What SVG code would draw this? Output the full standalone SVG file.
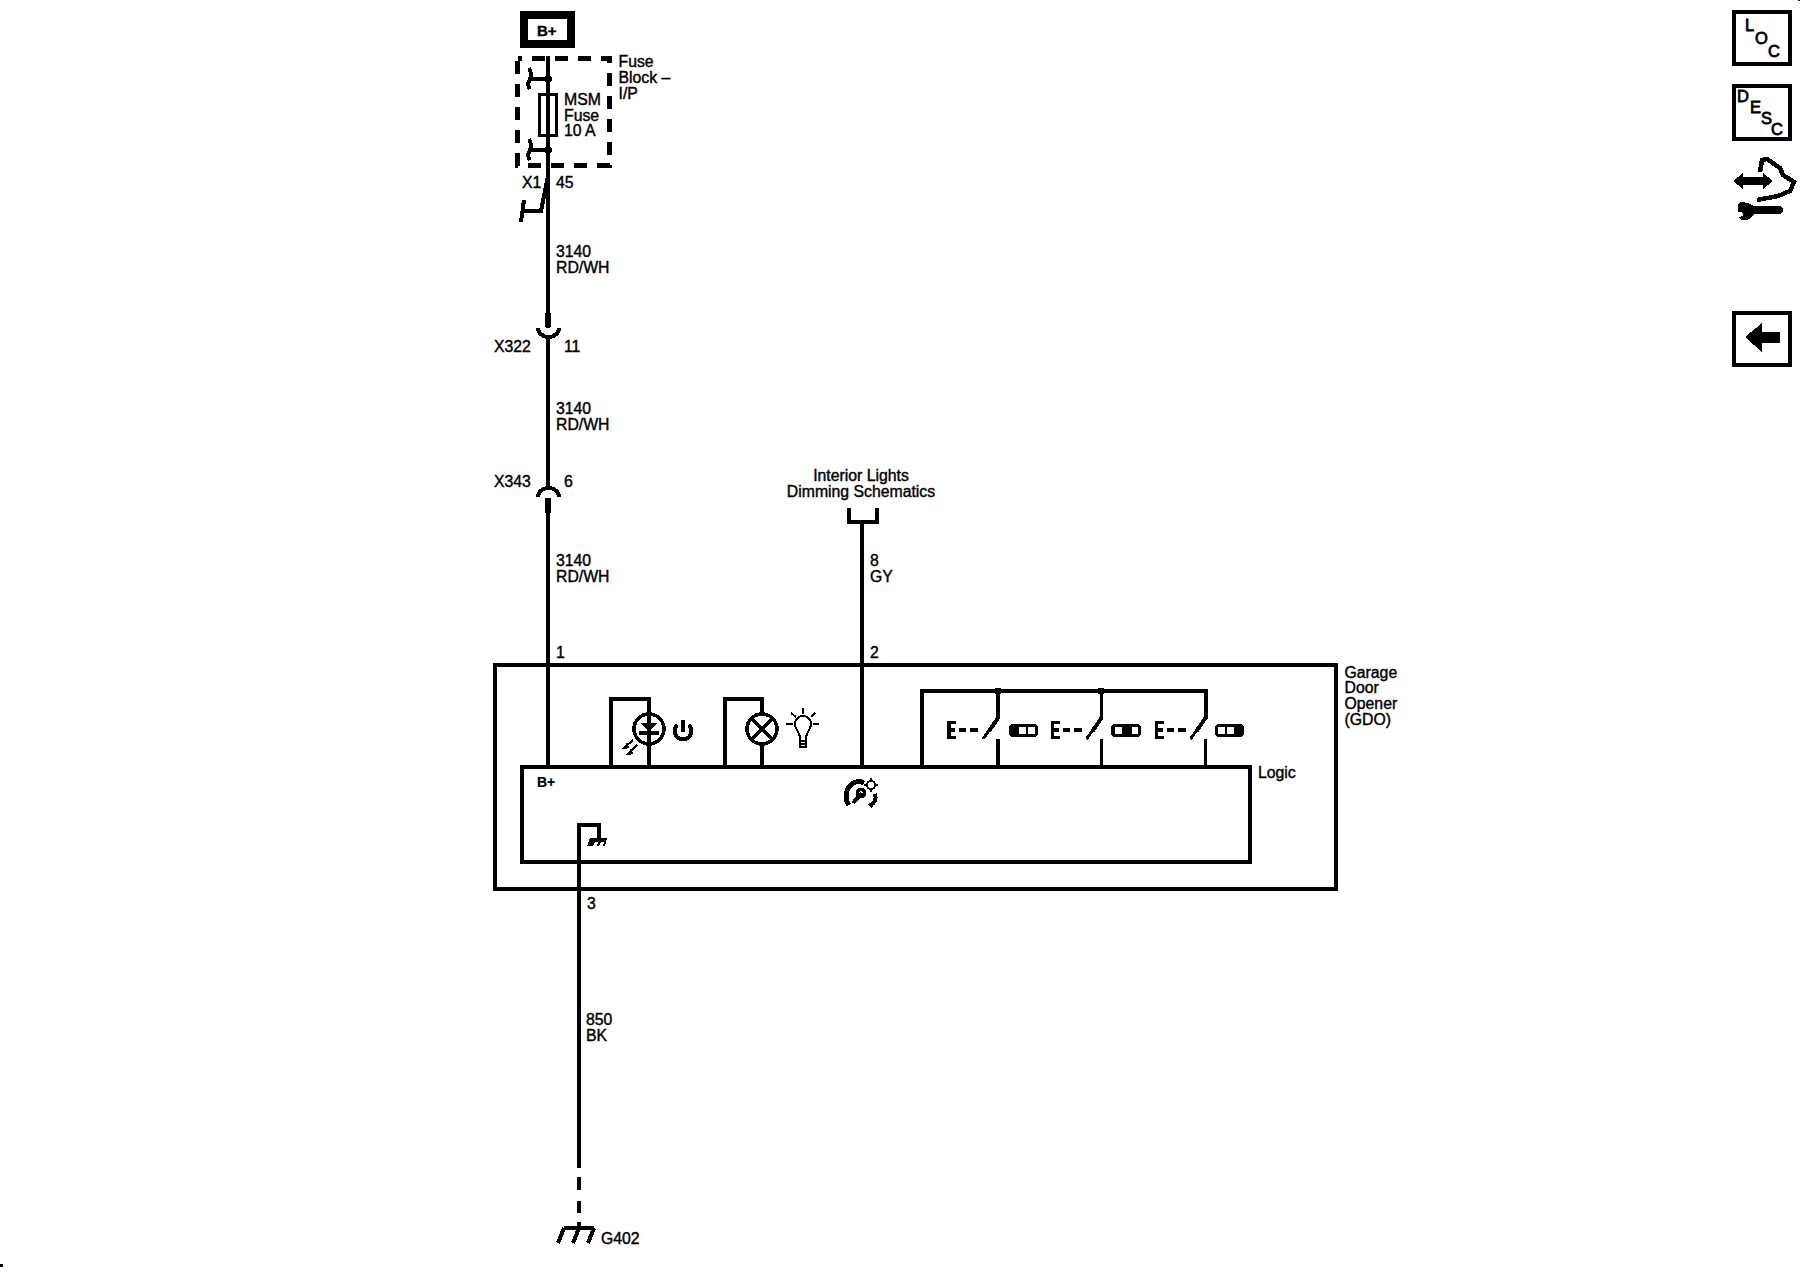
<svg xmlns="http://www.w3.org/2000/svg" width="1800" height="1280" viewBox="0 0 1800 1280">
<style>
path,rect,circle{shape-rendering:crispEdges}
text{font-family:"Liberation Sans",Arial,sans-serif;font-size:15.8px;fill:#000;stroke:#000;stroke-width:.4px}
.w{fill:none;stroke:#000;stroke-width:4;stroke-linejoin:miter}
.m{fill:none;stroke:#000;stroke-width:3.5}
.t{fill:none;stroke:#000;stroke-width:2}
.f{fill:#000;stroke:none}
.s{font-size:14px;font-weight:bold;stroke-width:.2px}
.i{font-size:16.500px;stroke-width:.8px}
</style>
<defs>
<g id="sw-body">
<path class="w" d="M0 -1L-9 12"/>
<path class="m" style="stroke-width:3" d="M-8 10L-15 20"/>
<path class="m" d="M0 -28V0"/>
<path class="m" d="M0 20V48"/>
<path class="m" d="M-49 2V20M-50 3.500H-42M-50 11H-43M-50 18.500H-42"/>
<path class="m" d="M-39 11H-32M-28 11H-20"/>
</g>
</defs>
<rect class="f" x="0" y="1264" width="3" height="3"/>
<rect class="f" x="1798" y="0" width="2" height="1"/>

<g id="connectors">
<path class="w" d="M548 56V328"/>
<rect class="f" x="545" y="313" width="6" height="14"/>
<path class="w" d="M548 336V488"/>
<rect class="f" x="545" y="498" width="6" height="15"/>
<path class="w" d="M548 498V767"/>
<path class="m" d="M862 523V767"/>
<path class="m" d="M579 908V825H599V840"/>
<path class="m" d="M579 889V1168"/>
<path class="m" d="M579 1177V1190M579 1201V1213M579 1222V1229"/>
</g>

<g id="b-plus">
<rect class="w" style="stroke-width:8" x="524" y="15" width="47" height="29"/>
<text x="537" y="36" style="font-weight:bold;font-size:15px">B+</text>
</g>

<g id="fuse-block">
<rect class="w" style="stroke-width:5" x="517.500" y="58.500" width="92" height="107" stroke-dasharray="13 10" stroke-dashoffset="8.500"/>
<rect class="m" style="fill:#fff" x="539.500" y="94.500" width="17" height="41"/>
<path class="w" d="M548 94V136"/>
<circle class="f" cx="548" cy="79" r="4"/>
<circle class="f" cx="548" cy="150" r="4"/>
<path class="w" d="M548 79H530M529 68C532 73 531 76 530 79C528 83 527 85 530 89"/>
<path class="w" d="M548 150H530M529 139C532 144 531 147 530 150C528 154 527 156 530 160"/>
<path class="w" d="M548 176L541 211H522M524 200L521 222"/>
<text x="618.500" y="67">Fuse</text>
<text x="618.500" y="83">Block –</text>
<text x="618.500" y="99">I/P</text>
<text x="564" y="105">MSM</text>
<text x="564" y="120.500">Fuse</text>
<text x="564" y="136">10 A</text>
<text x="522" y="187.500">X1</text>
<text x="556" y="187.500">45</text>
</g>

<g id="wire-labels">
<text x="556" y="257">3140</text>
<text x="556" y="272.500">RD/WH</text>
<text x="556" y="414">3140</text>
<text x="556" y="429.500">RD/WH</text>
<text x="556" y="566">3140</text>
<text x="556" y="581.500">RD/WH</text>
<text x="870" y="566">8</text>
<text x="870" y="581.500">GY</text>
<text x="586" y="1025">850</text>
<text x="586" y="1040.500">BK</text>
</g>

<g id="x322">
<path class="w" d="M538 328A10.500 9 0 0 0 559 328"/>
<text x="494" y="351.500">X322</text>
<text x="564" y="351.500">11</text>
</g>

<g id="x343">
<path class="w" d="M538 497A10.500 9 0 0 1 559 497"/>
<text x="494" y="486.500">X343</text>
<text x="564" y="486.500">6</text>
</g>

<g id="dimming-ref">
<text x="861" y="480.500" text-anchor="middle">Interior Lights</text>
<text x="861" y="497" text-anchor="middle">Dimming Schematics</text>
<path class="w" d="M849 508V522H877V508"/>
</g>

<g id="gdo">
<rect class="w" x="495" y="665" width="841" height="224"/>
<text x="1344.500" y="677.500">Garage</text>
<text x="1344.500" y="692.500">Door</text>
<text x="1344.500" y="708.500">Opener</text>
<text x="1344.500" y="724.500">(GDO)</text>
<text x="556" y="657.500">1</text>
<text x="870" y="657.500">2</text>
<text x="587" y="908.500">3</text>
</g>

<g id="logic">
<rect class="w" x="522" y="767" width="728" height="95"/>
<text x="1258" y="777.500">Logic</text>
<text x="537" y="787" class="s">B+</text>
<path class="f" d="M590 838H607L605 846H603L604 842H601L599 846H597L598 842H595L593 846H587Z"/>
<g id="dim-icon">
<path class="w" style="stroke-width:5" d="M849 805C844 799 846 788 852 784C856 781 861 781 864 783"/>
<path class="w" d="M853 803L862 793"/>
<circle cx="861" cy="793" r="3.500" class="m"/>
<path class="w" d="M875 794C877 800 874 803 871 805"/>
<circle cx="871" cy="785" r="4" class="t"/>
<path class="t" d="M871 778V780M871 790V792M864 785H866M876 785H878"/>
<path class="f" d="M867 804L875 802L872 808Z"/>
</g>
</g>

<g id="led">
<path class="m" d="M611 767V699H649V767"/>
<circle cx="649" cy="729" r="15" fill="#fff" stroke="#000" stroke-width="3.500"/>
<path class="m" d="M649 715V767"/>
<path class="f" d="M641 723H657L649 732Z"/>
<path class="m" d="M639 733H659"/>
<path class="t" d="M624 748L633 740M628 754L637 745"/>
<path class="t" d="M628 743L624 748L629 747M632 749L628 754L633 753"/>
<path class="w" d="M677 725A8.500 8.500 0 1 0 689 725M683 720V732"/>
</g>

<g id="lamp">
<path class="m" d="M725 767V699H762V767"/>
<circle cx="762" cy="729" r="15" fill="#fff" stroke="#000" stroke-width="3.500"/>
<path class="m" d="M751.500 718.500L772.500 739.500M772.500 718.500L751.500 739.500"/>
<path class="t" d="M800 747V737C799 732 795 729 795 724A8 8 0 0 1 811 724C811 729 807 732 806 737V747ZM800 741H806M800 744H806"/>
<path class="t" d="M803 708V714M791 713L796 717M815 713L811 717M786 724H793M813 724H819"/>
</g>

<g id="switches">
<path class="m" d="M922 767V691H1206V719"/>
<circle class="f" cx="998" cy="691" r="3.500"/>
<circle class="f" cx="1101" cy="691" r="3.500"/>
<use href="#sw-body" x="998" y="719"/>
<use href="#sw-body" x="1101.500" y="719"/>
<use href="#sw-body" x="1205.500" y="719"/>
<g id="pill-1">
<rect class="f" x="1009" y="724" width="29" height="13" rx="4"/>
<rect x="1019" y="727" width="7" height="7" fill="#fff"/>
<rect x="1028" y="727" width="7" height="7" fill="#fff"/>
</g>
<g id="pill-2">
<rect class="f" x="1111" y="724" width="30" height="13" rx="4"/>
<rect x="1115" y="727" width="7" height="7" fill="#fff"/>
<rect x="1132" y="727" width="6" height="7" fill="#fff"/>
</g>
<g id="pill-3">
<rect class="f" x="1215" y="724" width="29" height="13" rx="4"/>
<rect x="1218" y="727" width="7" height="7" fill="#fff"/>
<rect x="1227" y="727" width="7" height="7" fill="#fff"/>
</g>
</g>

<g id="ground-g402">
<path class="w" d="M564 1228H594M564 1228L558 1243M579 1228L573 1243M594 1228L588 1243"/>
<text x="601" y="1243.500">G402</text>
</g>

<g id="btn-loc">
<rect class="w" x="1734" y="12" width="56" height="52"/>
<text class="i" x="1745" y="31">L</text>
<text class="i" x="1755" y="44">O</text>
<text class="i" x="1768" y="57">C</text>
</g>

<g id="btn-desc">
<rect class="w" x="1734" y="86" width="56" height="53"/>
<text class="i" x="1737" y="102">D</text>
<text class="i" x="1750" y="113">E</text>
<text class="i" x="1761" y="124">S</text>
<text class="i" x="1771" y="135">C</text>
</g>

<g id="btn-service">
<path class="f" d="M1733 181L1743 173V177H1763V173L1773 181L1763 189V185H1743V189Z"/>
<path class="w" style="stroke-width:4.500" d="M1760 172L1762 160L1767 159L1780 168L1783 175L1794 182L1790 191L1778 196L1757 200"/>
<path class="f" d="M1739 203C1743 201 1750 203 1754 206H1780C1784 207 1784 213 1780 214H1754C1750 222 1741 222 1739 217C1744 217 1745 213 1741 212H1738C1738 208 1737 205 1739 203Z"/>
</g>

<g id="btn-back">
<rect class="w" x="1734" y="313" width="56" height="52"/>
<path class="f" d="M1745 337L1762 323V332H1780V343H1762V352Z"/>
</g>
</svg>
